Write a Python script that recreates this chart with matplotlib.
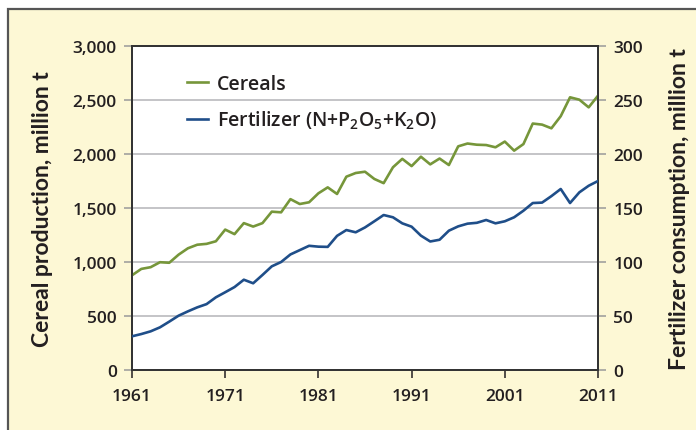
import numpy as np
import matplotlib.pyplot as plt
from matplotlib.patches import Rectangle

plt.rcParams['font.family'] = ['Lato', 'DejaVu Sans']
plt.rcParams['mathtext.default'] = 'regular'

# Data
years = np.arange(1961, 2012)
cereals = [877, 936, 952, 998, 993, 1068, 1127, 1160, 1168, 1192,
           1300, 1258, 1360, 1328, 1360, 1466, 1460, 1582, 1537, 1553,
           1636, 1691, 1630, 1790, 1824, 1836, 1769, 1730, 1877, 1955,
           1888, 1975, 1904, 1958, 1898, 2071, 2097, 2086, 2083, 2062,
           2115, 2031, 2092, 2282, 2272, 2238, 2350, 2525, 2503, 2432,
           2540]
fertilizer = [31.2, 33.3, 35.8, 39.5, 44.8, 50.3, 54.3, 58.0, 61.0, 67.3,
              72.0, 76.8, 83.6, 80.3, 88.0, 96.0, 100.0, 107.0, 111.0, 115.0,
              114.2, 114.0, 124.2, 129.6, 127.5, 132.0, 137.7, 143.5, 141.4, 135.8,
              132.7, 124.4, 119.0, 120.6, 129.0, 133.0, 135.5, 136.3, 138.9, 135.8,
              137.7, 141.4, 147.5, 154.6, 155.0, 161.0, 167.6, 154.6, 164.5, 170.6,
              175.0]
xticks = [1961, 1971, 1981, 1991, 2001, 2011]

green = '#76963a'
blue = '#1f4e89'
txt = '#231f20'
mid = ['Open Sans', 'DejaVu Sans']

fig = plt.figure(figsize=(6.96, 4.31), dpi=100)
fig.patch.set_facecolor('white')

# yellow panel behind the chart
W, H = 696, 431
fig.patches.append(Rectangle((8 / W, -0.05), 1.1, (421 / H) + 0.05,
                             transform=fig.transFigure, facecolor='#fdf8d5',
                             edgecolor='#555555', linewidth=1.6, zorder=-5))

ax = fig.add_axes([132 / W, 60 / H, 466 / W, 324 / H])
ax.set_facecolor('white')
ax.plot(years, cereals, color=green, lw=1.9, label='Cereals', zorder=3)
ax.set_xlim(1961, 2011)
ax.set_ylim(0, 3000)
ax.set_yticks(np.arange(0, 3001, 500))
ax.set_yticklabels(['{:,}'.format(v) for v in range(0, 3001, 500)])
ax.set_xticks(xticks)
ax.grid(axis='y', color='#b4b4b8', lw=1.1)
ax.set_axisbelow(True)

ax2 = ax.twinx()
ax2.plot(years, fertilizer, color=blue, lw=1.9, zorder=3)
ax2.set_ylim(0, 300)
ax2.set_yticks(np.arange(0, 301, 50))

# legend entry for fertilizer on the first axes
ax.plot([], [], color=blue, lw=1.9, label='Fertilizer (N+P$_2$O$_5$+K$_2$O)')
ax.legend(loc='upper left', bbox_to_anchor=(0.08, 0.968), frameon=False,
          prop={'family': mid, 'size': 14, 'weight': 'semibold'}, handlelength=1.1,
          handletextpad=0.45, labelspacing=0.75, labelcolor=txt)

for a in (ax, ax2):
    for s in a.spines.values():
        s.set_color('#333333')
        s.set_linewidth(1.3)
    a.tick_params(colors=txt, labelsize=12.5, length=6, width=1.1, pad=5)
    a.tick_params(axis='y', color='#999999')
    for lab in a.get_xticklabels() + a.get_yticklabels():
        lab.set_fontweight('semibold')
        lab.set_family(mid)
ax.tick_params(axis='x', pad=7)

ax.set_ylabel('Cereal production, million t', fontsize=16.5, fontweight='bold',
              color=txt, labelpad=14)
ax2.set_ylabel('Fertilizer consumption, million t', fontsize=16.5, fontweight='bold',
               color=txt, labelpad=19)

fig.savefig('out.png', dpi=100)
